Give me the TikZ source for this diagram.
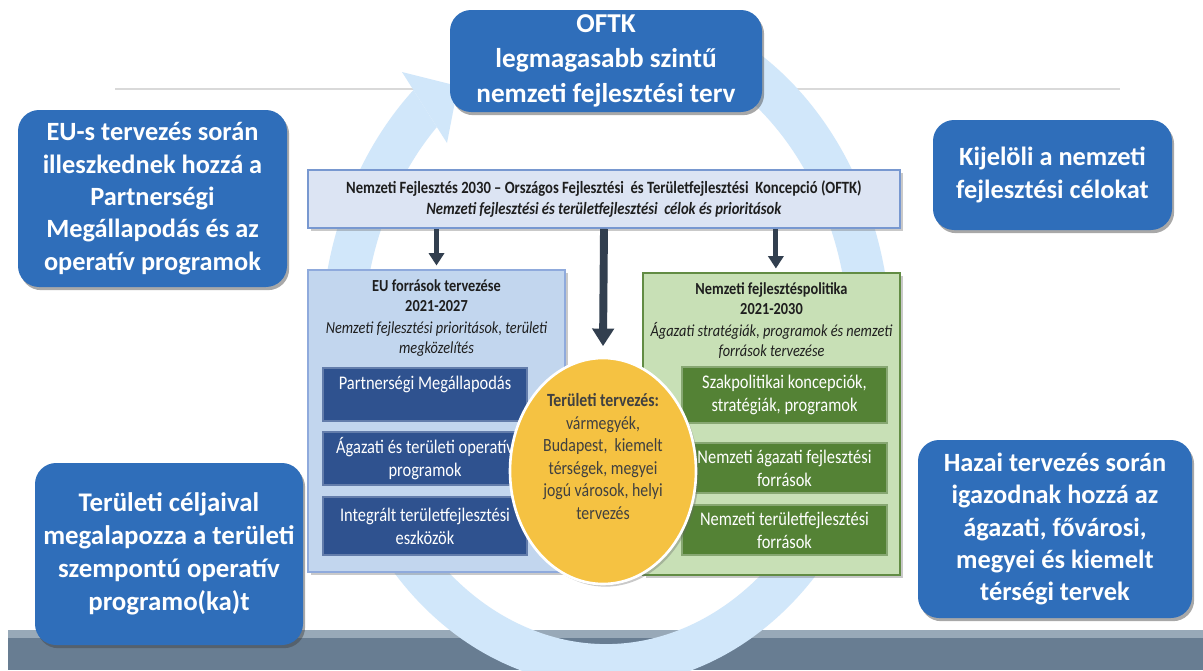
\documentclass[tikz,border=0pt]{standalone}
\usepackage{fontspec}
\setmainfont{Carlito}
\newfontfamily\cnd[FakeStretch=0.85]{Carlito}
\usetikzlibrary{shapes.geometric,shadows,arrows.meta,calc}

\definecolor{calloutblue}{RGB}{47,110,186}
\definecolor{ringc}{RGB}{209,231,250}
\definecolor{conceptfill}{RGB}{220,228,243}
\definecolor{conceptdraw}{RGB}{120,152,208}
\definecolor{eufill}{RGB}{194,214,238}
\definecolor{eudraw}{RGB}{143,170,220}
\definecolor{euinner}{RGB}{47,82,143}
\definecolor{grfill}{RGB}{200,224,182}
\definecolor{grdraw}{RGB}{98,140,68}
\definecolor{grinner}{RGB}{84,130,53}
\definecolor{yel}{RGB}{245,194,66}
\definecolor{arrc}{RGB}{50,63,79}
\definecolor{bandtop}{RGB}{152,169,184}
\definecolor{bandmain}{RGB}{104,125,146}
\definecolor{hline}{RGB}{217,217,217}
\definecolor{txt}{RGB}{30,30,30}

\begin{document}
\begin{tikzpicture}[x=0.02cm,y=-0.02cm,
  sz/.style 2 args={minimum width=#1*0.02cm, minimum height=#2*0.02cm},
  callout/.style={rectangle, fill=calloutblue, rounded corners=12pt, text=white,
    font=\fontsize{15}{18.4}\selectfont\bfseries, align=center, inner sep=0pt,
    drop shadow={shadow xshift=1.2pt, shadow yshift=-1.8pt, opacity=0.45, fill=black!75}},
  panel/.style={rectangle, inner sep=0pt, line width=1.1pt,
    drop shadow={shadow xshift=1.5pt, shadow yshift=-1.5pt, opacity=0.35, fill=black!60}},
  innerbox/.style={rectangle, inner sep=0pt, text=white, align=center, line width=0.6pt,
    font=\cnd\fontsize{11}{13}\selectfont},
  head/.style={anchor=north, align=center, inner sep=0pt,
    font=\cnd\fontsize{9.6}{11.3}\selectfont, text=txt},
  darr/.style={draw=arrc, line width=2.8pt, -{Triangle[length=7pt, width=8.5pt]}},
  bigarr/.style={draw=arrc, line width=4.5pt, -{Triangle[length=10pt, width=12pt]}},
]
\useasboundingbox (0,0) rectangle (1203,670);
\fill[white] (0,0) rectangle (1203,670);

% grey rule and bottom band
\draw[hline, line width=1.7pt] (115,89) -- (1120,89);
\fill[bandtop] (8,630) rectangle (1203,638);
\fill[bandmain] (8,638) rectangle (1203,670);

% circular arrow
\begin{scope}
  \clip (-10,-20) -- (344,-20) -- (402,72) -- (447,143) -- (470,180) -- (700,180)
        -- (700,-20) -- (1250,-20) -- (1250,700) -- (-10,700) -- cycle;
  \draw[ringc, line width=0.84cm] ({606+264*cos(-70)},{343+322*sin(-70)})
        arc[start angle=-70, end angle=245, x radius=264, y radius=322];
\end{scope}
\fill[ringc] (402,72) -- (458,86) -- (447,143) -- cycle;

% callouts
\node[callout, sz={312}{102}, font=\fontsize{15.5}{19.8}\selectfont\bfseries] (oftk) at (606,61)
  {OFTK\\legmagasabb szintű\\nemzeti fejlesztési terv};
\node[callout, sz={269}{177}] (eutext) at (152.5,198.5)
  {EU-s tervezés során\\illeszkednek hozzá a\\Partnerségi\\Megállapodás és az\\operatív programok};
\node[callout, sz={239}{110}] (kijel) at (1052.5,175)
  {Kijelöli a nemzeti\\fejlesztési célokat};
\node[callout, sz={268}{182}, font=\fontsize{15.3}{18.9}\selectfont\bfseries] (teruleti) at (169,554)
  {Területi céljaival\\megalapozza a területi\\szempontú operatív\\programo(ka)t};
\node[callout, sz={274}{178}] (hazai) at (1055,529)
  {Hazai tervezés során\\igazodnak hozzá az\\ágazati, fővárosi,\\megyei és kiemelt\\térségi tervek};

% concept box
\node[panel, fill=conceptfill, draw=conceptdraw, sz={592}{58}, align=center,
  font=\cnd\fontsize{9.8}{12}\selectfont, text=txt] (koncepcio) at (604,199)
  {\textbf{Nemzeti Fejlesztés 2030 – Országos Fejlesztési\ \ és Területfejlesztési\ \ Koncepció (OFTK)}\\
   \textbf{\textit{Nemzeti fejlesztési és területfejlesztési\ \ célok és prioritások}}};

% EU panel
\node[panel, fill=eufill, draw=eudraw, sz={257}{302}] (eubox) at (436.5,421) {};
\node[head] (euhead) at ($(eubox.north)+(0,10)$)
  {\textbf{EU források tervezése}\\\textbf{2021-2027}\\[1.5pt]
   \textit{Nemzeti fejlesztési prioritások, területi}\\\textit{megközelítés}};
\node[innerbox, fill=euinner, draw=euinner!75!white, sz={204}{53}] (pm) at (425,394.5)
  {Partnerségi Megállapodás\\\mbox{}};
\node[innerbox, fill=euinner, draw=euinner!75!white, sz={204}{53}] (aop) at (425,458.5)
  {Ágazati és területi operatív\\programok};
\node[innerbox, fill=euinner, draw=euinner!75!white, sz={204}{58}] (itf) at (425,526)
  {Integrált területfejlesztési\\eszközök};

% green panel
\node[panel, fill=grfill, draw=grdraw, sz={257}{302}] (grbox) at (771.5,424) {};
\node[head] (grhead) at ($(grbox.north)+(0,10)$)
  {\textbf{Nemzeti fejlesztéspolitika}\\\textbf{2021-2030}\\[1.5pt]
   \textit{Ágazati stratégiák, programok és nemzeti}\\\textit{források tervezése}};
\node[innerbox, fill=grinner, draw=grinner!70!white, sz={205}{56}] (szak) at (784.5,395)
  {Szakpolitikai koncepciók,\\stratégiák, programok};
\node[innerbox, fill=grinner, draw=grinner!70!white, sz={205}{50}] (nagf) at (784.5,468)
  {Nemzeti ágazati fejlesztési\\források};
\node[innerbox, fill=grinner, draw=grinner!70!white, sz={205}{50}] (ntf) at (784.5,530)
  {Nemzeti területfejlesztési\\források};

% arrows
\draw[darr] (koncepcio.south -| eubox.north) -- ([yshift=2pt]eubox.north);
\draw[darr] ([xshift=2.5pt]koncepcio.south -| grbox.north) -- ([xshift=2.5pt,yshift=2pt]grbox.north);

% yellow ellipse
\node[ellipse, fill=yel, draw=white, line width=1.5pt, sz={186}{226}, inner sep=0pt,
  align=center, text=txt!85, font=\cnd\fontsize{10.6}{12.8}\selectfont,
  drop shadow={shadow xshift=1.5pt, shadow yshift=-1.5pt, opacity=0.35, fill=black!60}] (terv) at (603,471)
  {\textbf{Területi tervezés:}\\vármegyék,\\Budapest,\ \ kiemelt\\térségek, megyei\\jogú városok, helyi\\tervezés\\[4pt]\mbox{}};
\draw[bigarr] (koncepcio.south) -- ([yshift=6pt]terv.north);
\end{tikzpicture}
\end{document}
